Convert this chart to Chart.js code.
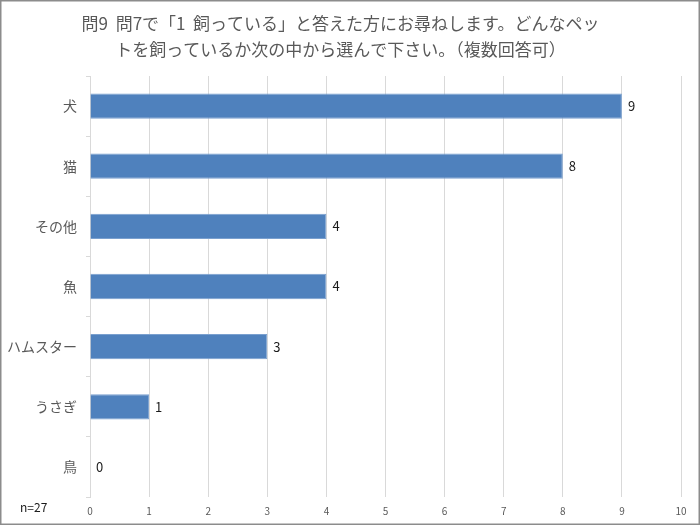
<!DOCTYPE html>
<html>
<head>
<meta charset="utf-8">
<script src="https://cdn.jsdelivr.net/npm/chart.js@4"></script>
<style>
  html, body { margin: 0; padding: 0; background: #fff; }
  canvas { display: block; }
</style>
</head>
<body>
<canvas id="petChart" width="700" height="525"></canvas>
<script>
const categories = ['犬', '猫', 'その他', '魚', 'ハムスター', 'うさぎ', '鳥'];
const counts = [9, 8, 4, 4, 3, 1, 0];
const xTicks = [0, 1, 2, 3, 4, 5, 6, 7, 8, 9, 10];
const titleLines = ['問9  問7で「1  飼っている」と答えた方にお尋ねします。どんなペッ', 'トを飼っているか次の中から選んで下さい。（複数回答可）'];
const sampleNote = 'n=27';

const FONT = '"Noto Sans CJK JP", "Noto Sans", sans-serif';

// white background, outer frame, value labels, n= note
const decorPlugin = {
    id: 'decor',
    beforeDraw(chart) {
        const ctx = chart.ctx;
        ctx.save();
        ctx.fillStyle = '#ffffff';
        ctx.fillRect(0, 0, chart.width, chart.height);
        ctx.restore();
    },
    afterDatasetsDraw(chart) {
        const ctx = chart.ctx;
        const meta = chart.getDatasetMeta(0);
        ctx.save();
        ctx.font = '13px ' + FONT;
        ctx.fillStyle = '#1a1a1a';
        ctx.textBaseline = 'middle';
        ctx.textAlign = 'left';
        meta.data.forEach((bar, i) => {
            ctx.fillText(String(counts[i]), bar.x + 6, bar.y);
        });
        ctx.restore();
    },
    afterDraw(chart) {
        const ctx = chart.ctx;
        ctx.save();
        ctx.font = '12px ' + FONT;
        ctx.fillStyle = '#1a1a1a';
        ctx.textBaseline = 'middle';
        ctx.fillText(sampleNote, 20, 507);
        ctx.strokeStyle = '#8c8c8c';
        ctx.lineWidth = 1.5;
        ctx.strokeRect(0.75, 0.75, chart.width - 1.5, chart.height - 1.5);
        ctx.restore();
    }
};

const ctx = document.getElementById('petChart').getContext('2d');
const petChart = new Chart(ctx, {
    type: 'bar',
    data: {
        labels: categories,
        datasets: [{
            data: counts,
            backgroundColor: '#4f81bd',
            borderColor: '#7aa0cf',
            borderWidth: 1,
            categoryPercentage: 1.0,
            barPercentage: 0.42
        }]
    },
    options: {
        indexAxis: 'y',
        responsive: false,
        animation: false,
        devicePixelRatio: 1,
        layout: { padding: { top: 11, right: 19, bottom: 0, left: 0 } },
        plugins: {
            legend: { display: false },
            tooltip: { enabled: false },
            title: {
                display: true,
                text: titleLines,
                color: '#595959',
                font: { family: FONT, size: 17, weight: 'normal', lineHeight: 1.5 },
                padding: { top: 0, bottom: 14 }
            }
        },
        scales: {
            x: {
                min: 0,
                max: 10,
                afterBuildTicks(scale) {
                    scale.ticks = xTicks.map(v => ({ value: v }));
                },
                afterFit(scale) { scale.height = 28; },
                grid: { color: '#d9d9d9', drawTicks: false, lineWidth: 1 },
                border: { display: false },
                ticks: {
                    color: '#595959',
                    padding: 8,
                    font: { family: FONT, size: 10 }
                }
            },
            y: {
                afterFit(scale) { scale.width = 90; },
                grid: {
                    offset: true,
                    drawOnChartArea: false,
                    color: '#d9d9d9',
                    tickLength: 4
                },
                border: { display: true, color: '#d9d9d9' },
                ticks: {
                    color: '#595959',
                    padding: 9,
                    font: { family: FONT, size: 14 }
                }
            }
        }
    },
    plugins: [decorPlugin]
});
</script>
</body>
</html>
